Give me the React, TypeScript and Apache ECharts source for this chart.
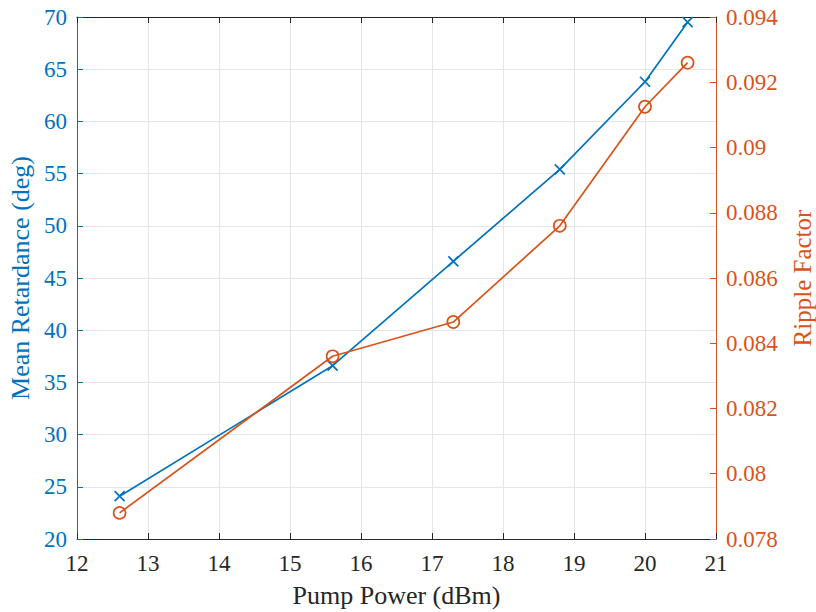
import React, { useEffect, useRef } from "react";
import * as echarts from "echarts";

// Pump power sweep (dBm)
const pumpPower = [12.6, 15.6, 17.3, 18.8, 20.0, 20.6];
// Mean retardance (deg), left axis
const meanRetardance = [24.1, 36.6, 46.6, 55.4, 63.8, 69.5];
// Ripple factor, right axis
const rippleFactor = [0.0788, 0.0836, 0.08465, 0.0876, 0.09125, 0.0926];

const BLUE = "#0072BD";
const ORANGE = "#D95319";
const DARK = "#262626";
const FONT = "Liberation Serif";

export default function App() {
  const ref = useRef<HTMLDivElement>(null);

  useEffect(() => {
    if (!ref.current) return;
    const chart = echarts.init(ref.current, undefined, { renderer: "svg" });
    const tickLabel = { fontFamily: FONT, fontSize: 23 };
    const titleText = { fontFamily: FONT, fontSize: 26 };
    chart.setOption({
      animation: false,
      backgroundColor: "#ffffff",
      grid: {
        left: 77,
        right: 100,
        top: 17,
        bottom: 73,
        containLabel: false,
        outerBoundsMode: "none",
      },
      xAxis: [
        {
          type: "value",
          min: 12,
          max: 21,
          interval: 1,
          name: "Pump Power (dBm)",
          nameLocation: "middle",
          nameGap: 43,
          nameTextStyle: { ...titleText, color: DARK },
          axisLine: { show: true, onZero: false, lineStyle: { color: DARK, width: 1 } },
          axisTick: { show: true, inside: true, length: 6, lineStyle: { color: DARK } },
          axisLabel: { ...tickLabel, color: DARK, margin: 13 },
          splitLine: { show: true, lineStyle: { color: "#e2e5e9", width: 1 } },
        },
        {
          type: "value",
          position: "top",
          min: 12,
          max: 21,
          interval: 1,
          axisLine: { show: true, onZero: false, lineStyle: { color: DARK, width: 1 } },
          axisTick: { show: true, inside: true, length: 6, lineStyle: { color: DARK } },
          axisLabel: { show: false },
          splitLine: { show: false },
        },
      ],
      yAxis: [
        {
          type: "value",
          position: "left",
          min: 20,
          max: 70,
          interval: 5,
          name: "Mean Retardance (deg)",
          nameLocation: "middle",
          nameGap: 40,
          nameTextStyle: { ...titleText, color: BLUE },
          axisLine: { show: true, onZero: false, lineStyle: { color: BLUE, width: 1 } },
          axisTick: { show: true, inside: true, length: 6, lineStyle: { color: BLUE } },
          axisLabel: { ...tickLabel, color: BLUE, margin: 10 },
          splitLine: { show: true, lineStyle: { color: "#e2e5e9", width: 1 } },
        },
        {
          type: "value",
          position: "right",
          min: 0.078,
          max: 0.094,
          interval: 0.002,
          name: "Ripple Factor",
          nameLocation: "middle",
          nameGap: 74,
          nameRotate: 90,
          nameTextStyle: { ...titleText, fontSize: 25, color: ORANGE },
          axisLine: { show: true, onZero: false, lineStyle: { color: ORANGE, width: 1 } },
          axisTick: { show: true, inside: true, length: 6, lineStyle: { color: ORANGE } },
          axisLabel: {
            ...tickLabel,
            color: ORANGE,
            margin: 10,
            formatter: (v: number) => String(parseFloat(v.toFixed(4))),
          },
          splitLine: { show: false },
        },
      ],
      series: [
        {
          type: "line",
          xAxisIndex: 0,
          yAxisIndex: 0,
          data: pumpPower.map((x, i) => [x, meanRetardance[i]]),
          lineStyle: { color: BLUE, width: 1.7 },
          symbol: "path://M0,0L10,10M10,0L0,10",
          symbolSize: 10,
          itemStyle: { color: "none", borderColor: BLUE, borderWidth: 1.7 },
          z: 3,
        },
        {
          type: "line",
          xAxisIndex: 0,
          yAxisIndex: 1,
          data: pumpPower.map((x, i) => [x, rippleFactor[i]]),
          lineStyle: { color: ORANGE, width: 1.7 },
          symbol: "circle",
          symbolSize: 12,
          showAllSymbol: true,
          itemStyle: { color: "none", borderColor: ORANGE, borderWidth: 1.7 },
          z: 4,
        },
      ],
    });
    return () => chart.dispose();
  }, []);

  return (
    <div
      ref={ref}
      style={{ position: "fixed", left: 0, top: 0, width: 816, height: 612 }}
    />
  );
}
